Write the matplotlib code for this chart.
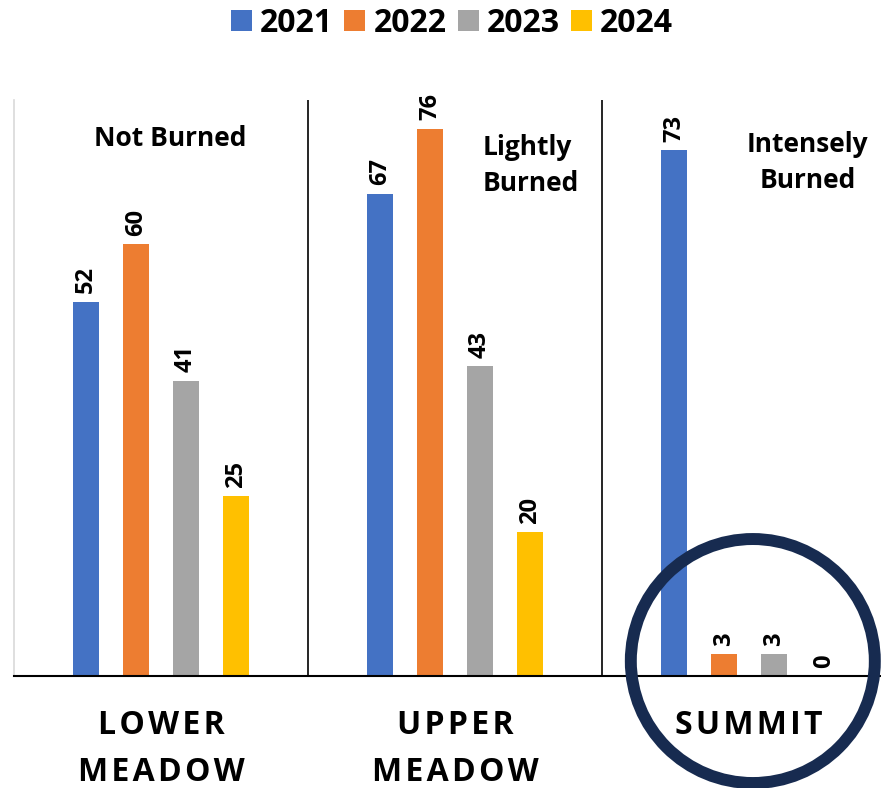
import matplotlib.pyplot as plt
import numpy as np
from matplotlib.patches import Ellipse

sites = ['LOWER\nMEADOW', 'UPPER\nMEADOW', 'SUMMIT']
years = ['2021', '2022', '2023', '2024']
counts_2021 = [52, 67, 73]
counts_2022 = [60, 76, 3]
counts_2023 = [41, 43, 3]
counts_2024 = [25, 20, 0]
burn_notes = ['Not Burned', 'Lightly\nBurned', 'Intensely\nBurned']

colors = ['#4472C4', '#ED7D31', '#A5A5A5', '#FFC000']
font = ['Open Sans', 'DejaVu Sans']
plt.rcParams['font.family'] = font


def spaced(label):
    # fake letter spacing with hair spaces
    return '\n'.join('\u200a'.join(line) for line in label.split('\n'))


fig = plt.figure(figsize=(8.81, 7.88), dpi=100)
ax = fig.add_axes([14 / 881, 112 / 788, 1 - 14 / 881, 576 / 788])

x = np.arange(len(sites))
barWidth = 0.088
step = 0.17
series = [counts_2021, counts_2022, counts_2023, counts_2024]
for i, (year, vals) in enumerate(zip(years, series)):
    pos = x + (i - 1.5) * step
    bars = ax.bar(pos, vals, barWidth, color=colors[i], label=year, zorder=2)
    for b, v in zip(bars, vals):
        ax.annotate(str(v), (b.get_x() + b.get_width() / 2, v),
                    xytext=(0, 6), textcoords='offset points',
                    ha='center', va='bottom', rotation=90,
                    fontsize=17, fontweight='bold')

ax.set_xlim(-0.5, 2.449)
ax.set_ylim(0, 80)

for sep in [0.5, 1.5]:
    ax.axvline(sep, color='black', lw=1.2, zorder=1)

for s in ['top', 'right']:
    ax.spines[s].set_visible(False)
ax.spines['left'].set_color('#d9d9d9')
ax.spines['left'].set_linewidth(1.2)
ax.spines['bottom'].set_color('black')
ax.spines['bottom'].set_linewidth(1.5)
ax.set_yticks([])
ax.set_xticks([])

for xi, name in zip(x, sites):
    ax.annotate(spaced(name), (xi, 0), xytext=(0, -24), textcoords='offset points',
                ha='center', va='top', fontsize=23, fontweight='bold',
                linespacing=1.56, annotation_clip=False)

ax.text(0.03, 74.6, burn_notes[0], ha='center', va='center',
        fontsize=19, fontweight='bold')
ax.text(1.095, 70.9, burn_notes[1], ha='left', va='center',
        fontsize=19, fontweight='bold', linespacing=1.42)
ax.text(2.2, 71.3, burn_notes[2], ha='center', va='center',
        fontsize=19, fontweight='bold', linespacing=1.42)

# highlight ring around the summit group
ring = Ellipse((2.013, 2.08), width=244 / 294, height=244 / 7.2, fill=False,
               edgecolor='#172b50', lw=8.6, clip_on=False, zorder=3)
ax.add_patch(ring)

fig.legend(loc='center', bbox_to_anchor=(452 / 881, 1 - 23 / 788), ncol=4,
           frameon=False, prop={'size': 23, 'weight': 'bold'},
           handlelength=0.66, handleheight=0.66, handletextpad=0.25,
           columnspacing=0.35, borderpad=0)

plt.savefig('out.png', dpi=100)
